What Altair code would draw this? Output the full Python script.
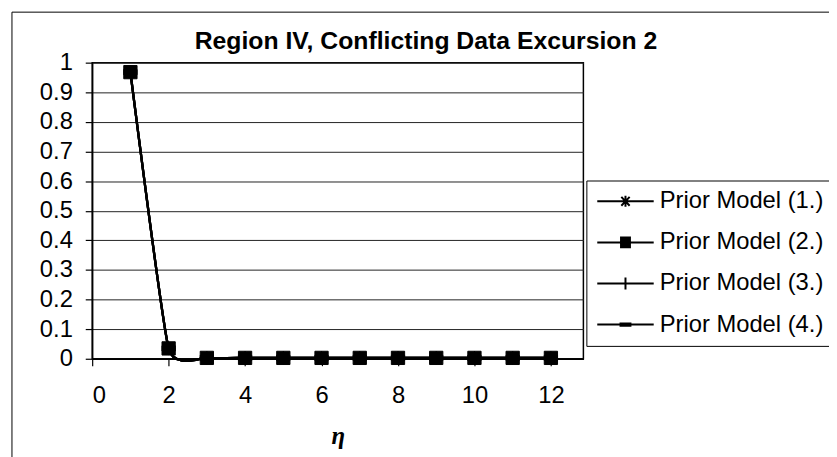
import altair as alt
import pandas as pd

series_names = ["Prior Model (1.)", "Prior Model (2.)", "Prior Model (3.)", "Prior Model (4.)"]
eta = [1, 2, 3, 4, 5, 6, 7, 8, 9, 10, 11, 12]
values_1 = [0.968, 0.035, 0.003, 0.003, 0.003, 0.003, 0.003, 0.003, 0.003, 0.003, 0.003, 0.003]
values_2 = [0.968, 0.035, 0.003, 0.003, 0.003, 0.003, 0.003, 0.003, 0.003, 0.003, 0.003, 0.003]
values_3 = [0.968, 0.035, 0.003, 0.003, 0.003, 0.003, 0.003, 0.003, 0.003, 0.003, 0.003, 0.003]
values_4 = [0.968, 0.035, 0.003, 0.003, 0.003, 0.003, 0.003, 0.003, 0.003, 0.003, 0.003, 0.003]
y_ticks = [0, 0.1, 0.2, 0.3, 0.4, 0.5, 0.6, 0.7, 0.8, 0.9, 1]
x_ticks = [0, 2, 4, 6, 8, 10, 12]

# marker shapes for the data points
marker_paths = [
    "M-0.8,-0.8L0.8,0.8M-0.8,0.8L0.8,-0.8M0,-1V1",
    "M-1,-1H1V1H-1Z",
    "M0,-1V1M-1,0H1",
    "M-1,-0.4H1V0.4H-1Z",
]
# legend symbols: a line with the marker in its middle (unit = 10 px, symbol size 400)
c = 1.85
line = "M-1,0H4.7"
sq = "".join(f"M{c-0.55:.2f},{y:.2f}H{c+0.55:.2f}" for y in [-0.5, -0.33, -0.17, 0.0, 0.17, 0.33, 0.5])
dash = "".join(f"M{c-0.6:.2f},{y:.2f}H{c+0.6:.2f}" for y in [-0.12, 0.0, 0.12])
star = (f"M{c-0.42:.2f},-0.45L{c+0.42:.2f},0.45M{c-0.42:.2f},0.45L{c+0.42:.2f},-0.45"
        f"M{c:.2f},-0.55V0.55")
plus = f"M{c:.2f},-0.6V0.6"
legend_paths = [line + star, line + sq, line + plus, line + dash]

rows = []
for name, vals in zip(series_names, [values_1, values_2, values_3, values_4]):
    for e, v in zip(eta, vals):
        rows.append({"eta": e, "p": v, "series": name})
df = pd.DataFrame(rows)
draw_order = {series_names[0]: 0, series_names[2]: 1, series_names[3]: 2, series_names[1]: 3}
df["order"] = df["series"].map(draw_order)

x_enc = alt.X("eta:Q", scale=alt.Scale(domain=[0, 12.85], nice=False, zero=False),
              axis=alt.Axis(values=x_ticks, grid=False, title="η", tickSize=7,
                            labelPadding=18, titlePadding=17,
                            titleFont="Liberation Serif", titleFontStyle="italic",
                            titleFontWeight="bold", titleFontSize=25))
y_enc = alt.Y("p:Q", scale=alt.Scale(domain=[0, 1], nice=False),
              axis=alt.Axis(values=y_ticks, format="~g", grid=True, title=None,
                            tickSize=7, labelPadding=13))

base = alt.Chart(df)

lines = base.mark_line(interpolate="cardinal", tension=0.55, color="black", strokeWidth=2.3).encode(
    x=x_enc, y=y_enc, detail="series:N", order="eta:Q"
)

points = base.mark_point(filled=True, fill="black", stroke="black", strokeWidth=1,
                         opacity=1, size=180).encode(
    x=x_enc, y=y_enc,
    shape=alt.Shape("series:N", scale=alt.Scale(domain=series_names, range=marker_paths), legend=None),
    order="order:Q",
)

legend_layer = base.transform_filter("false").mark_point(
    filled=False, stroke="black", strokeWidth=2, opacity=1, size=400
).encode(
    x=x_enc, y=y_enc,
    shape=alt.Shape("series:N", scale=alt.Scale(domain=series_names, range=legend_paths),
                    legend=alt.Legend(title=None, orient="none", legendX=499, legendY=119,
                                      strokeColor="black", fillColor="white", padding=9,
                                      labelFont="Liberation Sans", labelFontSize=24,
                                      labelColor="black", rowPadding=17.5, labelOffset=41,
                                      labelExpr="datum.label + '\u00a0\u00a0\u00a0'",
                                      labelLimit=400,
                                      symbolSize=400, symbolStrokeWidth=2,
                                      symbolStrokeColor="black", symbolOpacity=1)),
)

border = alt.Chart(alt.Data(values=[{"k": 1}])).mark_rect(
    fill="transparent", stroke="black", strokeWidth=1
).encode(x=alt.value(-81), x2=alt.value(780), y=alt.value(-51), y2=alt.value(430))

chart = alt.layer(border, lines, points, legend_layer).resolve_scale(shape="independent").properties(
    width=496, height=299,
    autosize=alt.AutoSizeParams(type="none"),
    padding={"left": 85, "top": 53, "right": 248, "bottom": 97},
    title=alt.TitleParams("Region IV, Conflicting Data Excursion 2", anchor="middle", frame="group",
                          dx=89, offset=-43, font="Liberation Sans", fontSize=25,
                          fontWeight="bold", color="black"),
).configure_view(stroke="black", strokeWidth=1.5).configure_axis(
    labelFont="Liberation Sans", labelFontSize=24, labelColor="black",
    domainColor="black", domainWidth=1.5, tickColor="black", tickWidth=1.2,
    gridColor="#222", gridWidth=1, gridOpacity=1,
)

chart.save("out.html", embed_options={"renderer": "svg", "actions": False})
